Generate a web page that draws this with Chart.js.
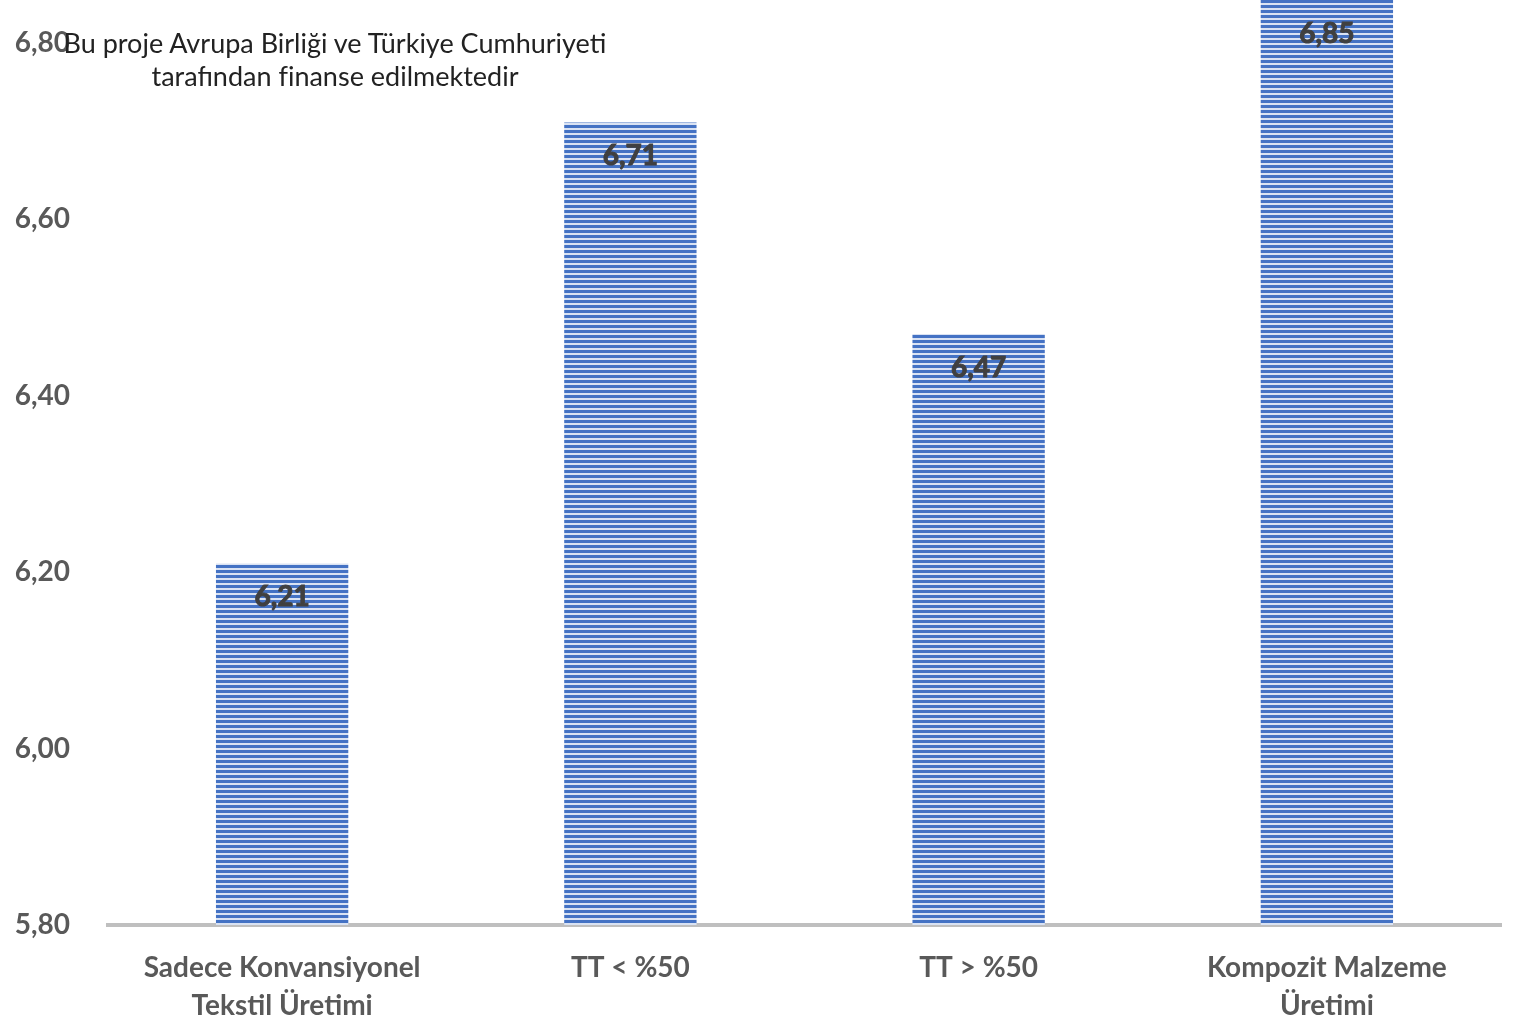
<!DOCTYPE html>
<html lang="tr">
<head>
  <meta charset="UTF-8">
  <title>Üretim Türüne Göre Ortalama</title>
  <script src="https://cdn.jsdelivr.net/npm/chart.js"></script>
  <style>
    body { margin: 0; background: #fff; }
    #wrap { position: relative; width: 1524px; height: 1023px; }
    #note {
      position: absolute;
      left: 335px; top: 26px;
      transform: translateX(-50%);
      font-family: Lato, "Open Sans", sans-serif;
      font-size: 27px;
      line-height: 33px;
      color: #222;
      text-align: center;
      white-space: nowrap;
    }
  </style>
</head>
<body>
  <div id="wrap">
    <canvas id="myChart"></canvas>
    <div id="note">Bu proje Avrupa Birliği ve Türkiye Cumhuriyeti<br>tarafından finanse edilmektedir</div>
  </div>

  <script>
    // chart data
    const categories = [
      ["Sadece Konvansiyonel", "Tekstil Üretimi"],
      "TT < %50",
      "TT > %50",
      ["Kompozit Malzeme", "Üretimi"]
    ];
    const values = [6.21, 6.71, 6.47, 6.85];
    const yMin = 5.8;
    const yStep = 0.2;
    const yTickMax = 6.8;

    const fmt = v => v.toFixed(2).replace('.', ',');

    // horizontal stripe fill like the original bars
    function stripePattern() {
      const c = document.createElement('canvas');
      c.width = 8; c.height = 5;
      const g = c.getContext('2d');
      g.fillStyle = '#4472c4';
      g.fillRect(0, 0, 8, 5);
      g.fillStyle = '#d9e2f3';
      g.fillRect(0, 3, 8, 2);
      return g.createPattern(c, 'repeat');
    }

    // value labels just under the top of each (visible) bar
    const barLabels = {
      id: 'barLabels',
      afterDatasetsDraw(chart) {
        const ctx = chart.ctx;
        const area = chart.chartArea;
        const meta = chart.getDatasetMeta(0);
        ctx.save();
        ctx.font = 'bold 28px Lato, sans-serif';
        ctx.fillStyle = '#404040';
        ctx.strokeStyle = '#404040';
        ctx.lineWidth = 1;
        ctx.textAlign = 'center';
        ctx.textBaseline = 'middle';
        meta.data.forEach((bar, i) => {
          const top = Math.max(bar.y, area.top);
          ctx.fillText(fmt(values[i]), bar.x, top + 34);
          ctx.strokeText(fmt(values[i]), bar.x, top + 34);
        });
        ctx.restore();
      }
    };

    const ctx = document.getElementById('myChart').getContext('2d');
    const myChart = new Chart(ctx, {
      type: 'bar',
      data: {
        labels: categories,
        datasets: [{
          data: values,
          backgroundColor: stripePattern(),
          borderWidth: 0,
          barPercentage: 0.38,
          categoryPercentage: 1
        }]
      },
      options: {
        responsive: true,
        maintainAspectRatio: false,
        animation: false,
        layout: { padding: { top: 0, right: 23, bottom: 0, left: 0 } },
        plugins: {
          legend: { display: false },
          tooltip: { enabled: false }
        },
        scales: {
          x: {
            grid: { display: false, drawTicks: false },
            border: { display: true, color: '#bfbfbf', width: 4 },
            ticks: {
              color: '#595959',
              font: { family: 'Lato, sans-serif', size: 28, weight: 'bold', lineHeight: 1.36 },
              padding: 24,
              maxRotation: 0,
              autoSkip: false
            },
            afterFit: s => { s.height = 98; }
          },
          y: {
            min: yMin,
            max: yTickMax + 43 / 882,
            grid: { display: false, drawTicks: false },
            border: { display: false },
            ticks: {
              stepSize: yStep,
              color: '#595959',
              font: { family: 'Lato, sans-serif', size: 28, weight: 'bold' },
              padding: 38,
              callback: v => fmt(v)
            },
            afterBuildTicks: s => {
              s.ticks = s.ticks.filter(t => {
                const k = (t.value - yMin) / yStep;
                return Math.abs(k - Math.round(k)) < 1e-6 && t.value <= yTickMax + 1e-6;
              });
            },
            afterFit: s => {
              s.width = 108;
              s.paddingTop = 0;
              s.paddingBottom = 0;
            }
          }
        }
      },
      plugins: [barLabels]
    });
  </script>
</body>
</html>
